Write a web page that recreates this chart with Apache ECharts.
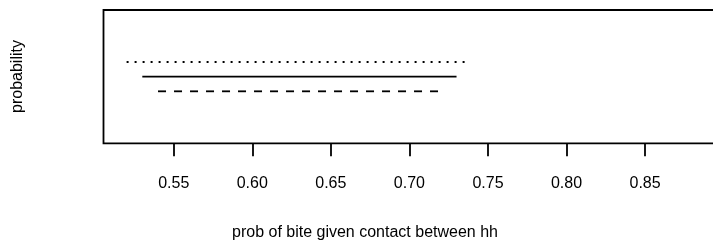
<!DOCTYPE html>
<html>
<head>
<meta charset="utf-8">
<script src="https://cdn.jsdelivr.net/npm/echarts@6/dist/echarts.min.js"></script>
<style>
  html, body { margin: 0; padding: 0; background: #fff; }
  #chartId { width: 713px; height: 244px; }
</style>
</head>
<body>
<div id="chartId"></div>
<script>
// interval ends
const dottedX = [0.52, 0.736];
const solidX = [0.53, 0.73];
const dashedX = [0.54, 0.72];
// height of each interval on the (hidden) probability axis
const levels = { dotted: 0.61, solid: 0.5, dashed: 0.39 };
const tickValues = [0.55, 0.60, 0.65, 0.70, 0.75, 0.80, 0.85];

const FONT = '"Liberation Sans", Arial, sans-serif';

const makeSeries = (name, xs, y, type) => ({
  name,
  type: 'line',
  data: xs.map(x => [x, y]),
  showSymbol: false,
  symbol: 'none',
  silent: true,
  animation: false,
  lineStyle: {
    color: '#000',
    width: 1.8,
    type,
    cap: 'butt',
  },
});

const OptionConfig = () => {
  return {
    backgroundColor: '#fff',
    animation: false,
    grid: {
      left: 103.5,
      top: 10,
      bottom: 100.7,
      right: -10, // box runs past the right edge
      outerBoundsMode: 'none',
      show: true,
      borderColor: '#000',
      borderWidth: 1.8,
      backgroundColor: 'transparent',
    },
    xAxis: {
      type: 'value',
      min: 0.5053,
      max: 0.8996,
      axisLine: { show: false },
      splitLine: { show: false },
      axisTick: {
        show: true,
        length: 13,
        customValues: tickValues,
        lineStyle: { color: '#000', width: 1.8 },
      },
      axisLabel: {
        customValues: tickValues,
        formatter: v => v.toFixed(2),
        color: '#000',
        fontFamily: FONT,
        fontSize: 16,
        lineHeight: 16,
        verticalAlign: 'middle',
        margin: 40,
      },
    },
    yAxis: {
      type: 'value',
      min: 0,
      max: 1,
      show: false,
    },
    series: [
      makeSeries('dotted', dottedX, levels.dotted, [2, 6]),
      makeSeries('solid', solidX, levels.solid, 'solid'),
      makeSeries('dashed', dashedX, levels.dashed, [8, 8]),
    ],
    graphic: [
      {
        type: 'text',
        x: 18,
        y: 76.5,
        rotation: Math.PI / 2,
        style: {
          text: 'probability',
          fill: '#000',
          font: '16px ' + FONT,
          align: 'center',
          verticalAlign: 'middle',
        },
      },
      {
        type: 'text',
        x: 365,
        y: 233,
        style: {
          text: 'prob of bite given contact between hh',
          fill: '#000',
          font: '16px ' + FONT,
          align: 'center',
          verticalAlign: 'middle',
        },
      },
    ],
  };
};

const chartContainer = echarts.init(document.getElementById('chartId'), null, { renderer: 'canvas' });
chartContainer.setOption(OptionConfig());
</script>
</body>
</html>
